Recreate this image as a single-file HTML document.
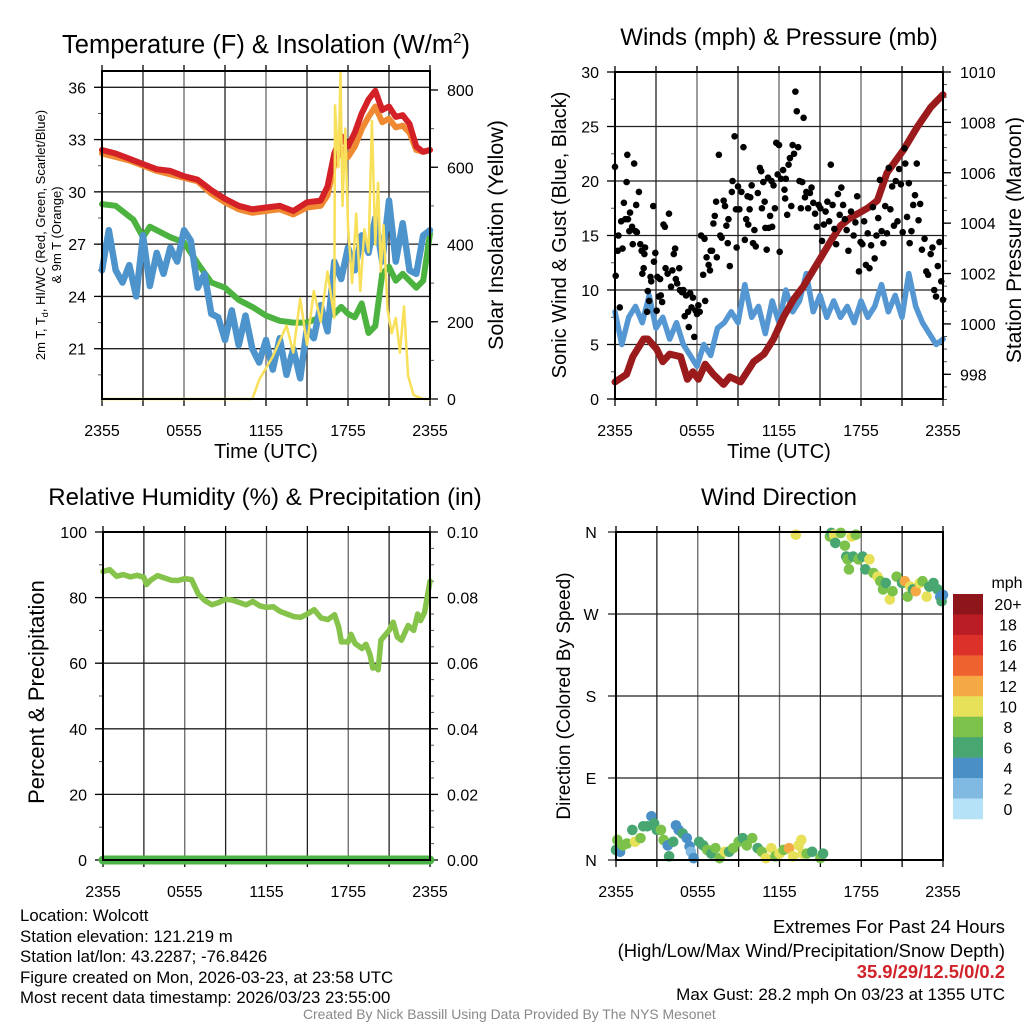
<!DOCTYPE html>
<html><head><meta charset="utf-8"><style>
html,body{margin:0;padding:0;background:#fff;}
body{width:1024px;height:1024px;overflow:hidden;position:relative;font-family:"Liberation Sans",sans-serif;}
svg{position:absolute;left:0;top:0;}
.ft{position:absolute;font-size:16.8px;color:#000;white-space:nowrap;line-height:20.5px;}
</style></head><body>
<svg id="c" width="1024" height="1024" viewBox="0 0 1024 1024"></svg>
<div class="ft" style="left:20px;top:906px;">Location: Wolcott<br>Station elevation: 121.219 m<br>Station lat/lon: 43.2287; -76.8426<br>Figure created on Mon, 2026-03-23, at 23:58 UTC<br>Most recent data timestamp: 2026/03/23 23:55:00</div>
<div class="ft" style="right:19px;top:917px;font-size:18.4px;">Extremes For Past 24 Hours</div>
<div class="ft" style="right:19px;top:941px;font-size:18.4px;">(High/Low/Max Wind/Precipitation/Snow Depth)</div>
<div class="ft" style="right:19px;top:962px;font-size:18.4px;color:#d0232a;font-weight:bold;">35.9/29/12.5/0/0.2</div>
<div class="ft" style="right:19px;top:985px;font-size:17px;">Max Gust: 28.2 mph On 03/23 at 1355 UTC</div>
<div class="ft" style="left:303px;top:1006px;font-size:13.9px;color:#888;line-height:16px;">Created By Nick Bassill Using Data Provided By The NYS Mesonet</div>
<script>
// ---- data ----
const xTickLabels = ["2355","0555","1155","1755","2355"];
const tempT = [0,1,2,3,4,5,6,7,8,9,10,11,12,13,14,15,16,16.5,17,17.5,18,18.5,19,19.5,20,20.5,21,21.5,22,22.5,23,23.5,24];
const tempRed = [32.4,32.2,31.9,31.6,31.3,31.2,30.9,30.7,30.1,29.6,29.2,29.0,29.1,29.2,28.9,29.4,29.5,30.3,32.2,33.2,32.6,33.4,34.5,35.3,35.8,34.7,34.9,34.3,34.4,33.9,32.6,32.3,32.4];
const tempOrange = [32.2,32.0,31.8,31.5,31.2,31.0,30.8,30.6,29.9,29.4,29.0,28.8,28.9,29.0,28.7,29.1,29.2,29.8,31.6,32.5,32.0,32.6,33.6,34.3,34.9,34.0,34.2,33.7,33.8,33.4,32.4,32.3,32.4];
const dewT = [0,1,2.3,3,3.5,4,5,6,7,8,9,10,11,12,13,14,15,16,17,17.5,18,18.5,19,19.5,20,20.5,21,21.5,22,22.5,23,23.5,24];
const dewV = [29.3,29.2,28.4,27.4,28.0,27.8,27.4,27.1,25.9,24.8,24.5,23.8,23.4,22.9,22.6,22.5,22.5,22.8,23.0,23.4,23.0,22.8,23.6,21.9,22.3,25.3,25.7,24.9,25.3,24.9,24.5,24.9,27.6];
const wcT = [0,0.5,1,1.5,2,2.5,3,3.5,4,4.5,5,5.5,6,6.5,7,7.5,8,8.5,9,9.5,10,10.5,11,11.5,12,12.5,13,13.5,14,14.5,15,15.5,16,16.5,17,17.5,18,18.5,19,19.5,20,20.5,21,21.5,22,22.5,23,23.5,24];
const wcV = [25.5,27.8,25.5,24.8,25.8,24.0,27.5,24.6,26.5,25.3,26.8,26.0,27.8,27.2,24.5,25.3,23.0,22.8,21.5,23.2,21.2,22.9,21.0,20.2,21.5,19.8,21.6,19.5,21.0,19.3,22.2,21.6,23.5,22.0,26.0,25.0,26.8,25.5,27.5,26.5,28.5,26.0,29.5,26.0,28.2,25.5,25.3,27.5,27.8];
const solT = [0,11,11.5,12,12.5,13,13.5,14,14.5,15,15.5,16,16.5,17,17.05,17.3,17.45,17.6,17.8,18,18.3,18.6,18.9,19.2,19.5,19.75,20,20.2,20.4,20.6,20.9,21.2,21.5,21.8,22.1,22.4,22.8,23.5,24];
const solV = [0,0,50,80,110,150,190,120,260,140,280,200,330,210,760,600,844,500,700,450,300,480,280,440,380,720,400,560,330,450,230,170,210,120,240,60,10,0,0];
const windT = [0,0.5,1,1.5,2,2.5,3,3.5,4,4.5,5,5.5,6,6.5,7,7.5,8,8.5,9,9.5,10,10.5,11,11.5,12,12.5,13,13.5,14,14.5,15,15.5,16,16.5,17,17.5,18,18.5,19,19.5,20,20.5,21,21.5,22,22.5,23,23.5,24];
const windV = [8,5,7.5,8.5,7,9.5,6.5,7.5,5.5,7,5,4,3,5,4,6.5,7,8,7,10.5,7.5,8.5,6,9,7,10,8,9,11.5,8,9.5,7.5,9,7.5,8.5,7,9,7.5,8.5,10.5,8,9.5,7.5,11.5,8.5,7,6,5,5.5];
const presT = [0,0.85,1.3,2.1,2.4,3.05,3.5,4,4.8,5.3,5.7,6.1,6.6,7.2,7.95,8.4,9.2,10.15,10.9,11.6,12.35,13.1,13.8,14.8,15.8,16.5,17.2,18.5,19.2,19.9,21.1,22.1,23.1,24];
const presV = [997.7,998.0,998.7,999.4,999.4,999.0,998.5,998.8,998.7,997.8,998.1,997.8,998.4,998.0,997.6,997.9,997.7,998.5,998.8,999.4,1000.3,1001.0,1001.5,1002.4,1003.3,1003.9,1004.2,1004.6,1004.9,1006.0,1006.9,1007.8,1008.6,1009.1];
const gustT = [0,0.05,0.2,0.25,0.35,0.45,0.55,0.65,0.75,0.85,0.9,0.95,1.05,1.1,1.25,1.3,1.4,1.5,1.55,1.6,1.75,1.85,1.95,2,2.1,2.15,2.2,2.35,2.4,2.5,2.6,2.65,2.8,2.85,2.95,3.05,3.1,3.2,3.3,3.35,3.45,3.55,3.65,3.7,3.85,3.95,4.1,4.2,4.3,4.4,4.45,4.55,4.7,4.75,4.9,5,5.1,5.2,5.35,5.4,5.5,5.6,5.7,5.8,5.9,6,6.1,6.2,6.3,6.45,6.55,6.6,6.7,6.85,6.95,7,7.1,7.2,7.3,7.4,7.45,7.6,7.7,7.8,7.95,8.05,8.15,8.25,8.3,8.4,8.55,8.6,8.75,8.85,8.9,9,9.1,9.25,9.4,9.5,9.6,9.7,9.75,9.85,9.9,10,10.1,10.2,10.3,10.45,10.6,10.7,10.75,10.85,10.95,11,11.1,11.2,11.25,11.35,11.45,11.5,11.6,11.7,11.8,11.9,12,12.05,12.15,12.3,12.4,12.45,12.5,12.6,12.7,12.8,12.9,13,13.1,13.2,13.3,13.4,13.5,13.6,13.7,13.8,13.9,14,14.13,14.26,14.38,14.51,14.64,14.77,14.9,15.03,15.15,15.28,15.41,15.54,15.67,15.79,15.92,16.05,16.18,16.31,16.44,16.56,16.69,16.82,16.95,17.08,17.27,17.46,17.59,17.72,17.85,17.97,18.1,18.23,18.36,18.49,18.62,18.74,18.87,19,19.13,19.26,19.38,19.51,19.64,19.77,19.9,20.03,20.15,20.28,20.41,20.54,20.67,20.79,20.92,21.05,21.18,21.24,21.37,21.5,21.56,21.69,21.82,21.95,22.08,22.21,22.33,22.46,22.65,22.78,22.91,23.1,23.23,23.36,23.49,23.62,23.74,23.87,24];
const gustV = [21.3,11.3,13.6,15,8.4,16.3,13.8,18,16.5,19.9,22.4,16.5,15.4,17.1,15.8,14.2,21.6,15.4,17.8,15.3,19,14.2,13.6,11.5,12,13.3,13.9,8,9.9,9,11.2,10.8,17.7,12.6,13.4,8.1,11.2,9.4,11,9.5,8.9,16,15.8,12,11.5,17,10.3,11.8,13.3,13.8,11,10.6,12,10,9.8,10,7.6,9.5,8,6.6,9.7,8.4,9.3,5.7,8.1,7.8,8.6,8,15,11.4,14.7,9,13,12.3,11.8,13.6,13.6,16.1,16.8,18.1,13,22.4,15,14.8,18.2,17.7,15.9,14.3,16.5,12.2,19,20,24.1,17.4,13.9,19.5,17.4,19,23.1,14.6,16.5,18.6,16,17.4,18.5,19.6,14.3,15.5,14,18.9,21.2,20.9,17.5,19.9,18.1,15.7,13.7,20.3,15.7,16.8,20,15.8,19.6,17.5,23.5,20.6,23.3,13.5,20.2,21,19.2,18.4,20.2,16.9,21.5,22.1,17.7,23.3,22.5,28.2,26.4,23.1,20,17.5,19.9,25.8,18.5,19,17.5,18.9,19.4,18,17,15.8,17.8,17.5,14.5,16,17.2,18.1,16.3,21.5,17.8,15.6,14.2,18.8,16.9,19.4,17.8,16.5,15.5,13.6,17.2,15,16.2,18.6,11.7,14.4,14.2,16.3,12.3,15.2,12,14.1,17.6,12.9,15,16.6,20.1,15.4,14.3,17.7,15.2,21.2,17.4,19.5,15.9,20,16.3,21.1,19.7,15.3,23,21.6,16.7,19.8,14.3,15.4,17.8,18.7,21.6,16.4,17.9,13.7,14.7,11.7,11.4,13.3,13.9,10,9.4,12.2,14.4,10.8,9.1];
const rhT = [0,0.5,1,1.5,2,2.5,3,3.2,3.5,4,4.5,5,5.5,6,6.5,7,7.5,8,8.5,9,9.5,10,10.5,11,11.5,12,12.5,13,13.5,14,14.5,15,15.5,16,16.5,17,17.3,17.5,18,18.2,18.5,19,19.3,19.6,19.8,20,20.2,20.4,21,21.3,21.6,21.9,22.4,22.8,23.1,23.3,23.6,24];
const rhV = [88,88.5,86.5,87,86.3,86.8,86.2,84,85.3,86.7,86,85.3,85.2,85.8,85.5,81,79,77.8,78.5,79.5,79.2,78.5,77.8,78.8,77.5,77,77.2,75.8,75,74.2,74,75,76.3,73.8,73.3,74.8,71,66.5,66.5,68.8,66,64.5,65.8,62.5,58.5,59,58,67,70,72.5,68,67,71.5,70,75,73,75.5,85];
const precipT = [0,24];
const precipV = [0,0];
const dirT = [0,0.1,0.3,0.5,0.8,1.2,1.4,1.8,2,2.3,2.6,2.8,3,3.3,3.5,3.8,3.9,4.2,4.4,4.6,4.9,5.2,5.4,5.5,5.7,6.1,6.4,6.7,7,7.3,7.6,8,8.3,8.6,9,9.3,9.6,10,10.4,10.7,11,11.4,11.7,12,12.3,12.7,13,13.4,13.6,13.7,14,14.4,15,15.2,13.2,15.7,15.8,16,16.1,16.5,16.8,17.3,17.6,16.9,17,17.1,17.4,17.8,18.1,18.3,18.6,18.9,19.2,19.4,19.6,19.8,20.1,20.3,20.6,21,21.2,21.4,21.6,21.8,22,22.3,22.5,22.8,23,23.3,23.6,23.8,23.9,24];
const dirV = [11,22,9,16,18,33,20,24,37,37,48,40,33,33,22,16,4,20,38,33,29,24,15,9,2,20,16,11,7,13,2,9,9,13,20,24,16,24,13,9,2,13,4,7,11,13,4,16,22,7,7,9,2,7,357,355,359,357,348,359,345,355,357,333,330,319,333,330,333,319,330,315,311,306,297,304,286,295,311,304,306,289,300,297,295,304,306,289,300,304,297,289,284,291];
const dirS = [6,8,4,8,8,6,10,8,6,6,4,6,6,8,8,4,6,6,4,4,6,4,4,2,4,6,6,8,6,8,8,10,6,8,8,6,8,8,6,8,10,10,8,10,8,12,10,10,10,10,8,6,8,6,10,8,6,10,6,8,8,10,8,6,8,8,6,8,6,6,10,8,10,8,8,6,10,8,8,6,12,8,10,6,12,10,8,10,6,6,6,4,6,4];
const cbLabels = ["20+","18","16","14","12","10","8","6","4","2","0"];
const cbColors = ["#8e1519","#bb1d25","#dc3128","#ee6230","#f5a945","#e7e15a","#7cc24a","#48a671","#4a8fc6","#80bae3","#b6e2f7"];

// ---- helpers ----
const svg = document.getElementById('c');
const NS = 'http://www.w3.org/2000/svg';
function mk(tag, attrs, parent){ const e=document.createElementNS(NS,tag); for(const k in attrs) e.setAttribute(k,attrs[k]); (parent||svg).appendChild(e); return e; }
function txt(x,y,s,size,anchor,parent,rot){ const t=mk('text',{x:x,y:y,'font-size':size,'text-anchor':anchor||'middle','font-family':'Liberation Sans, sans-serif',fill:'#000'},parent); if(rot) t.setAttribute('transform','rotate('+rot+' '+x+' '+y+')'); t.textContent=s; return t; }
function lin(d0,d1,r0,r1){ return v=> r0+(v-d0)*(r1-r0)/(d1-d0); }

function panel(name,L,R,T,B){
  const g=mk('g',{});
  
  
  const xs=lin(0,24,L,R);
  for(let h=3;h<24;h+=3){ const gl=mk('line',{x1:xs(h),x2:xs(h),y1:T,y2:B,stroke:(h%6===0?'#666':'#222'),'stroke-width':1.3},g);
      }
  for(let h=0;h<=24;h+=3){ mk('line',{x1:xs(h),x2:xs(h),y1:B,y2:B+7,stroke:'#000','stroke-width':1.3},g); mk('line',{x1:xs(h),x2:xs(h),y1:T-6,y2:T,stroke:'#000','stroke-width':1.3},g); }
  xTickLabels.forEach((s,i)=>{ const t=txt(xs(i*6),B+37,s,16,'middle',g);   });
  return {g,xs};
}
function yaxis(g,ys,L,R,ticks,minors,fmt,side,withGrid){
  const X = side==='l'?L:R, dir = side==='l'?-1:1;
  minors.forEach(v=>{ mk('line',{x1:X,x2:X+dir*4,y1:ys(v),y2:ys(v),stroke:'#555','stroke-width':1},g); });
  ticks.forEach(v=>{ const y=ys(v);
    if(withGrid) { const gl=mk('line',{x1:L,x2:R,y1:y,y2:y,stroke:'#222','stroke-width':1.3},g);   }
    mk('line',{x1:X,x2:X+dir*8,y1:y,y2:y,stroke:'#000','stroke-width':1.3},g);
    const t=txt(side==='l'?X-16:X+17,y+6,fmt(v),16,side==='l'?'end':'start',g);   });
}
function frame(g,L,R,T,B){ const f=mk('rect',{x:L,y:T,width:R-L,height:B-T,fill:'none',stroke:'#000','stroke-width':2},g);   }
function line(g,xs,ys,T,V,color,w){ const p=mk('polyline',{points:T.map((t,i)=>xs(t).toFixed(1)+','+ys(V[i]).toFixed(1)).join(' '),fill:'none',stroke:color,'stroke-width':w,'stroke-linejoin':'round','stroke-linecap':'round'},g); return p; }
function range(a,b,s){ const r=[]; for(let v=a;v<=b+1e-9;v+=s) r.push(+v.toFixed(4)); return r; }

// ---- Panel 1 ----
(function(){
  const L=102,R=430,T=71,B=399;
  const {g,xs}=panel('temperature-panel',L,R,T,B);
  const ys=lin(36,21,87.3,348.7), yr=lin(0,800,399,90);
  yaxis(g,ys,L,R,[21,24,27,30,33,36],range(19.5,36,1.5),v=>v,'l',true);
  yaxis(g,yr,L,R,[0,200,400,600,800],range(0,800,100),v=>v,'r',false);
  let p;
  p=line(g,xs,ys,dewT,dewV,'#4cb240',6);  
  p=line(g,xs,ys,wcT,wcV,'#4d93cc',6.5);  
  p=line(g,xs,ys,tempT,tempOrange,'#f08a32',6);  
  p=line(g,xs,ys,tempT,tempRed,'#d42027',6);  
  p=line(g,xs,yr,solT,solV,'#f8e05a',2.5);  
  frame(g,L,R,T,B);
  let t=txt(266,53,'Temperature (F) & Insolation (W/m',25.5,'middle',g); const sp=mk('tspan',{'font-size':15,dy:-10},t); sp.textContent='2'; const sp2=mk('tspan',{dy:10},t); sp2.textContent=')';
   
  t=txt(266,458,'Time (UTC)',20,'middle',g);  
  t=txt(45,235,'2m T, T',13,'middle',g,-90); const s3=mk('tspan',{'font-size':9,dy:3},t); s3.textContent='d'; const s4=mk('tspan',{dy:-3},t); s4.textContent=', HI/WC (Red, Green, Scarlet/Blue)';
   
  t=txt(61,235,'& 9m T (Orange)',13,'middle',g,-90);  
  t=txt(503,235,'Solar Insolation (Yellow)',21.5,'middle',g,-90);  
})();

// ---- Panel 2 ----
(function(){
  const L=615,R=943,T=72,B=399;
  const {g,xs}=panel('wind-pressure-panel',L,R,T,B);
  const ys=lin(0,30,399,72), yr=lin(998,1010,374.3,72);
  yaxis(g,ys,L,R,[0,5,10,15,20,25,30],range(0,30,2.5),v=>v,'l',true);
  yaxis(g,yr,L,R,[998,1000,1002,1004,1006,1008,1010],range(997,1010,0.5),v=>v,'r',false);
  let p=line(g,xs,ys,windT,windV,'#5497d3',5.5);  
  p=line(g,xs,yr,presT,presV,'#9b1b1c',7);  
  gustT.forEach((t,i)=>{ const c=mk('circle',{cx:xs(t),cy:ys(gustV[i]),r:3.3,fill:'#000'},g);
    
     });
  frame(g,L,R,T,B);
  let t=txt(779,45,'Winds (mph) & Pressure (mb)',24,'middle',g);  
  t=txt(779,458,'Time (UTC)',20,'middle',g);  
  t=txt(566,235,'Sonic Wind & Gust (Blue, Black)',20,'middle',g,-90);  
  t=txt(1021,240,'Station Pressure (Maroon)',21,'middle',g,-90);  
})();

// ---- Panel 3 ----
(function(){
  const L=103,R=430,T=532,B=860;
  const {g,xs}=panel('humidity-panel',L,R,T,B);
  const ys=lin(0,100,860,532), yr=lin(0,0.1,860,532);
  yaxis(g,ys,L,R,[0,20,40,60,80,100],range(0,100,10),v=>v,'l',true);
  yaxis(g,yr,L,R,[0,0.02,0.04,0.06,0.08,0.1],range(0,0.1,0.005),v=>v.toFixed(2),'r',false);
  let p=line(g,xs,ys,rhT,rhV,'#86c34a',5.5);  
  p=line(g,xs,yr,precipT,precipV,'#4cb447',9);  
  frame(g,L,R,T,B);
  let t=txt(265,505,'Relative Humidity (%) & Precipitation (in)',24,'middle',g);  
  t=txt(44,692,'Percent & Precipitation',22,'middle',g,-90);  
})();

// ---- Panel 4 ----
(function(){
  const L=616,R=943,T=532,B=860;
  const {g,xs}=panel('wind-direction-panel',L,R,T,B);
  const ys=lin(0,360,860,532);
  const dirTicks=[0,90,180,270,360], dirLbl=['N','E','S','W','N'];
  dirTicks.forEach((v,i)=>{ const y=ys(v);
    const gl=mk('line',{x1:L-8,x2:R,y1:y,y2:y,stroke:'#222','stroke-width':1.3},g);  
    const t=txt(591,y+6,dirLbl[i],16,'middle',g);   });
  dirT.forEach((t,i)=>{ const idx=Math.max(0,Math.min(10,10-Math.floor(dirS[i]/2)));
    const c=mk('circle',{cx:xs(t),cy:ys(dirV[i]),r:5.3,fill:cbColors[idx]},g);
    
     });
  frame(g,L,R,T,B);
  let t=txt(779,505,'Wind Direction',24,'middle',g);  
  t=txt(570,696,'Direction (Colored By Speed)',19,'middle',g,-90);  
  const cb=mk('g',{},g);  
  const h=(819-594)/cbColors.length;
  cbColors.forEach((c,i)=>{ const r=mk('rect',{x:953,y:594+i*h,width:30,height:h+0.3,fill:c},cb);
     
    const tl=txt(1008,594+i*h+h/2+6,cbLabels[i],16,'middle',cb);   });
  t=txt(1007,588,'mph',16,'middle',cb);  
})();
</script>
</body></html>
